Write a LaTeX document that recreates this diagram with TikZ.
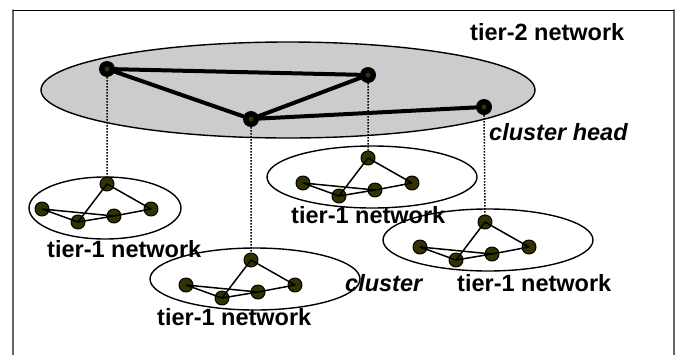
\documentclass[tikz,border=0pt]{standalone}
\usepackage{fontspec}
\setmainfont{Liberation Sans}
\definecolor{nodeolive}{HTML}{333300}
\definecolor{tiergray}{HTML}{CCCCCC}
\begin{document}
\begin{tikzpicture}[x=1pt,y=-1pt,line join=round,line cap=round,
		font=\fontsize{23.5}{28}\selectfont\bfseries,
		hub/.style={circle,fill=black,inner sep=0pt,minimum size=16pt,
			path picture={\fill[nodeolive] (path picture bounding box.center) circle (2.5pt);}},
		member/.style={circle,draw=black,fill=nodeolive,line width=1pt,inner sep=0pt,minimum size=14pt},
		nettext/.style={inner sep=0pt,anchor=base west}]
		\useasboundingbox (0,0) rectangle (676,354);
		% frame
		\draw[black!60,line width=1.5pt] (13,360)--(13,10);
		\draw[black!60,line width=1.5pt] (674,10)--(674,360);
		\draw[line width=1pt,line cap=butt] (13,10)--(674,10);
		% tier-2 network
		\draw[fill=tiergray,line width=1.4pt] (288,90) ellipse [x radius=247,y radius=48];
		\node[hub] (A) at (107,69) {};
		\node[hub] (B) at (368,75) {};
		\node[hub] (C) at (251,119) {};
		\node[hub] (D) at (484,107) {};
		\draw[line width=4pt] (A)--(B) (A)--(C) (C)--(B) (C)--(D);
		% tier-1 clusters
		\foreach \n/\x/\y/\ox/\oy/\rx in {1/107/184/-2/24/76,2/251/260/4/19/105,3/368/158/4/19/105,4/485/222/3/18/105}{
			\draw[line width=1.4pt] (\x+\ox,\y+\oy) ellipse [x radius=\rx,y radius=31];
			\node[member] (t\n) at (\x,\y) {};
			\node[member] (l\n) at (\x-65,\y+25) {};
			\node[member] (b\n) at (\x-29,\y+38) {};
			\node[member] (m\n) at (\x+7,\y+32) {};
			\node[member] (r\n) at (\x+44,\y+25) {};
			\draw[line width=1.5pt] (t\n.center)--(b\n.center) (t\n.center)--(r\n.center)
				(l\n.center)--(b\n.center) (l\n.center)--(m\n.center)
				(b\n.center)--(m\n.center) (m\n.center)--(r\n.center);
		}
		\draw[line width=1.5pt,line cap=butt,dash pattern=on 1.5pt off 1.5pt] (A)--(t1) (C)--(t2) (B)--(t3) (D)--(t4);
		% texts
		\node[nettext] (tier2) at (470,40) {tier-2 network};
		\node[nettext,font=\fontsize{23.5}{28}\selectfont\bfseries\itshape] (head) at (489,140) {cluster head};
		\node[nettext] (net1) at (47,257) {tier-1 network};
		\node[nettext] (net2) at (157,325) {tier-1 network};
		\node[nettext] (net3) at (291,223) {tier-1 network};
		\node[nettext] (net4) at (457,291) {tier-1 network};
		\node[nettext,font=\fontsize{23.5}{28}\selectfont\bfseries\itshape] (clus) at (345,291) {cluster};
\end{tikzpicture}
\end{document}
